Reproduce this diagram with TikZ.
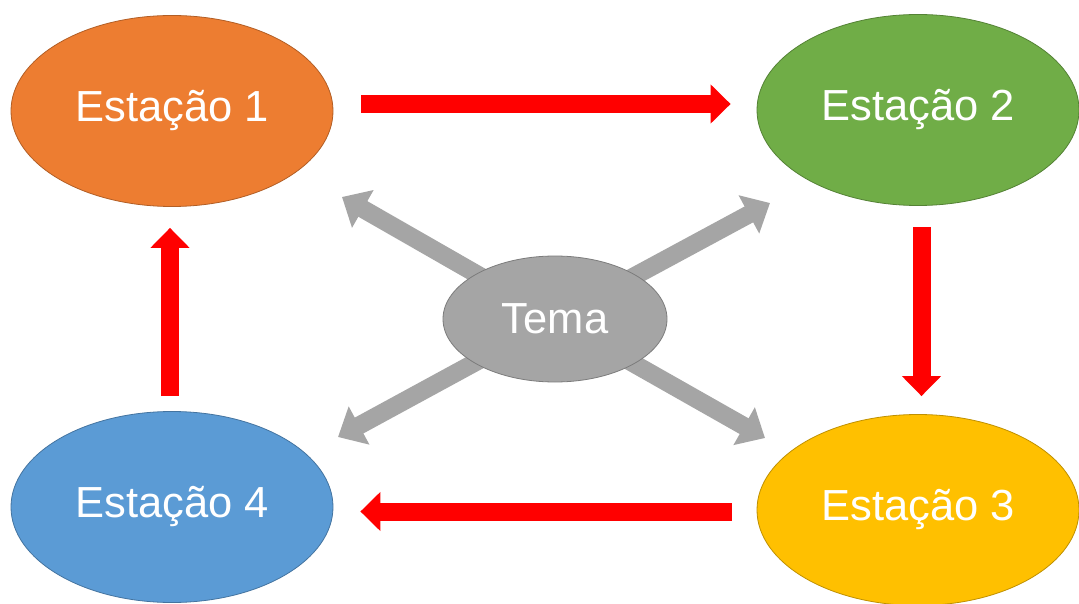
\documentclass[tikz,border=0pt]{standalone}
\usepackage{fontspec}
\setmainfont{Liberation Sans}
\usetikzlibrary{arrows.meta,backgrounds,shapes.geometric}
\definecolor{eorange}{HTML}{ED7D31}
\definecolor{egreen}{HTML}{70AD47}
\definecolor{eyellow}{HTML}{FFC000}
\definecolor{eblue}{HTML}{5B9BD5}
\definecolor{egray}{HTML}{A5A5A5}
\definecolor{ered}{HTML}{FF0000}
\begin{document}
\begin{tikzpicture}[x=1pt,y=-1pt,
  station/.style={ellipse, minimum width=322pt, minimum height=191pt, inner sep=0pt,
    line width=0.8pt, text=white, font=\fontsize{43.5}{50}\selectfont},
  redarrow/.style={draw=ered, line width=18pt, -{Triangle[width=38pt,length=20pt]}},
  grayarrow/.style={draw=egray, line width=18pt, -{Triangle[width=42pt,length=24pt]}}]
\useasboundingbox (0,0) rectangle (1079,604);
\node[station, fill=eorange, draw=eorange!75!black] (e1) at (172,111) {Estação 1};
\node[station, fill=egreen, draw=egreen!75!black] (e2) at (918,110) {Estação 2};
\node[station, fill=eyellow, draw=eyellow!75!black] (e3) at (918,510) {Estação 3};
\node[station, fill=eblue, draw=eblue!75!black] (e4) at (172,507) {Estação 4};
\node[station, minimum width=224pt, minimum height=126pt, fill=egray, draw=egray!75!black] (tema) at (555,319) {Tema};
\coordinate (g1) at (342,197);
\coordinate (g2) at (770,203);
\coordinate (g3) at (765,438);
\coordinate (g4) at (338,437);
\begin{scope}[on background layer]
\fill[white] (0,0) rectangle (1079,604);
\draw[grayarrow] (tema.center) -- (g1);
\draw[grayarrow] (tema.center) -- (g2);
\draw[grayarrow] (tema.center) -- (g3);
\draw[grayarrow] (tema.center) -- (g4);
\end{scope}
\draw[redarrow, shorten <=28pt, shorten >=26pt] ([yshift=7pt]e1.east) -- ([yshift=6pt]e2.west);
\draw[redarrow, shorten <=21pt, shorten >=18pt] ([xshift=3.5pt]e2.south) -- ([xshift=3.5pt]e3.north);
\draw[redarrow, shorten <=25pt, shorten >=27pt] ([yshift=-1.5pt]e3.west) -- ([yshift=-4.5pt]e4.east);
\draw[redarrow, shorten <=15pt, shorten >=21pt] ([xshift=-2pt]e4.north) -- ([xshift=-2pt]e1.south);
\end{tikzpicture}
\end{document}
